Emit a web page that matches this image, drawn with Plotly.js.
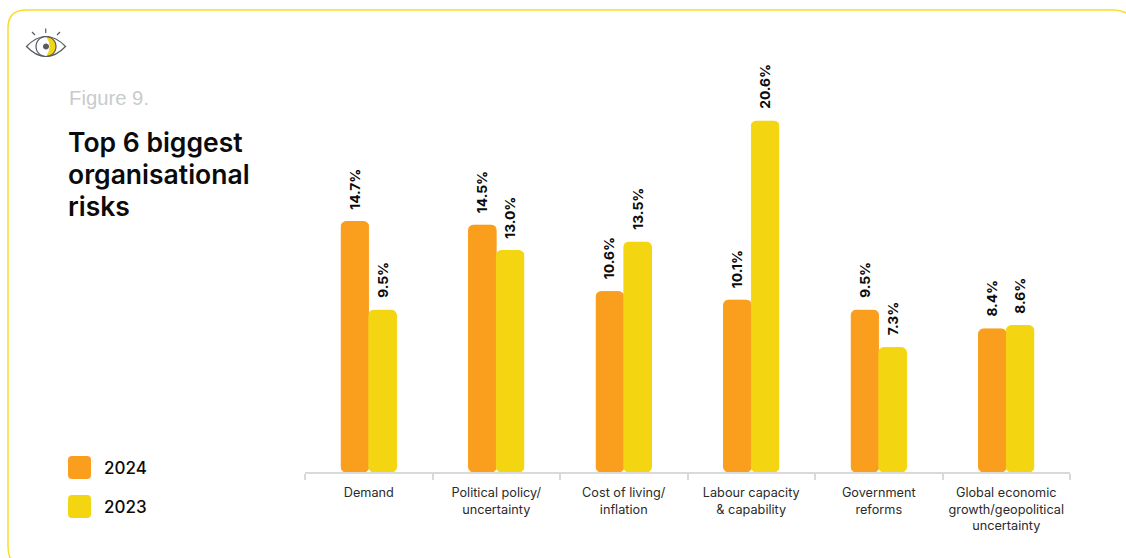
<!DOCTYPE html>
<html>
<head>
<meta charset="utf-8">
<script src="https://cdn.plot.ly/plotly-3.0.1.min.js"></script>
<style>
html,body{margin:0;padding:0;background:#fff;overflow:hidden}
#chart{width:1126px;height:558px}
</style>
</head>
<body>
<div id="chart"></div>
<script>
// Survey results: share of respondents naming each organisational risk
const categories = [
  "Demand",
  "Political policy/<br>uncertainty",
  "Cost of living/<br>inflation",
  "Labour capacity<br>& capability",
  "Government<br>reforms",
  "Global economic<br>growth/geopolitical<br>uncertainty"
];
const values2024 = [14.7, 14.5, 10.6, 10.1, 9.5, 8.4];
const values2023 = [9.5, 13.0, 13.5, 20.6, 7.3, 8.6];
const legendNames = ["2024", "2023"];
const headingLines = ["Top 6 biggest", "organisational", "risks"];

const ORANGE = "#FA9E1E";
const YELLOW = "#F4D512";
const CARD = "#F9DC2E";
const INK = "#0b0b0b";
const ICON = "#555C63";

const W = 1126, H = 558;
const plotLeft = 305, plotRight = 1070, plotTop = 60, plotBottom = 472;

// Page pixels to paper fractions, for the decoration around the plot
const px = x => (x - plotLeft) / (plotRight - plotLeft);
const py = y => (plotBottom - y) / (plotBottom - plotTop);
const P = (x, y) => px(x) + "," + py(y);
const paperPath = (d, extra) => Object.assign(
  {type: "path", xref: "paper", yref: "paper", path: d, line: {color: ICON, width: 1.2}}, extra);
function arcPoints(cx, cy, r, a0, a1) {
  let s = "";
  for (let a = a0; a <= a1; a += 10) {
    const t = a * Math.PI / 180;
    s += " L" + px(cx + r * Math.cos(t)) + "," + py(cy + r * Math.sin(t));
  }
  return s;
}
const circlePath = (cx, cy, r) =>
  "M" + px(cx - r) + "," + py(cy) + arcPoints(cx, cy, r, 180, 540) + " Z";

const shapes = [
  // Card outline, running off the right and bottom of the page
  paperPath(
    "M" + P(14, 563) + " Q" + P(8, 558) + " " + P(8, 546) +
    " L" + P(8, 28) +
    " Q" + P(8, 10) + " " + P(26, 10) +
    " L" + P(1114, 10) +
    " Q" + P(1124, 10) + " " + P(1132, 17),
    {line: {color: CARD, width: 1.5}}),
  // Eye icon: crescent, lid, iris, pupil and lashes
  paperPath(
    "M" + P(46, 36.5) + arcPoints(46, 46.5, 10, -90, 90) +
    " Q" + P(53, 46.5) + " " + P(46, 36.5) + " Z",
    {fillcolor: YELLOW, line: {width: 0}}),
  paperPath(
    "M" + P(26.5, 46.5) + " Q" + P(36, 36.5) + " " + P(46, 36.5) +
    " Q" + P(56, 36.5) + " " + P(65.5, 46.5) +
    " Q" + P(56, 56.5) + " " + P(46, 56.5) +
    " Q" + P(36, 56.5) + " " + P(26.5, 46.5) + " Z"),
  paperPath(circlePath(46, 46.5, 10)),
  paperPath(circlePath(46, 46.5, 2.4), {fillcolor: ICON}),
  paperPath("M" + P(45.7, 28.5) + " L" + P(45.7, 33)),
  paperPath("M" + P(32, 32) + " L" + P(35, 35)),
  paperPath("M" + P(60, 32) + " L" + P(57, 35)),
  // Legend swatches
  ...[ORANGE, YELLOW].map((c, i) => {
    const y0 = 456 + i * 39, x0 = 68, s = 23, r = 4;
    return paperPath(
      "M" + P(x0 + r, y0) + " L" + P(x0 + s - r, y0) +
      " Q" + P(x0 + s, y0) + " " + P(x0 + s, y0 + r) +
      " L" + P(x0 + s, y0 + s - r) +
      " Q" + P(x0 + s, y0 + s) + " " + P(x0 + s - r, y0 + s) +
      " L" + P(x0 + r, y0 + s) +
      " Q" + P(x0, y0 + s) + " " + P(x0, y0 + s - r) +
      " L" + P(x0, y0 + r) +
      " Q" + P(x0, y0) + " " + P(x0 + r, y0) + " Z",
      {fillcolor: c, line: {width: 0}});
  })
];

const pageText = (text, x, y, font) => ({
  text, xref: "paper", yref: "paper", x: px(x), y: py(y),
  xanchor: "left", yanchor: "middle", align: "left", showarrow: false,
  borderpad: 0, borderwidth: 0, font
});

const valueLabels = [values2024, values2023].flatMap((vals, s) =>
  vals.map((v, i) => ({
    x: categories[i], y: v, xref: "x", yref: "y",
    xshift: s === 0 ? -14 : 14, yshift: 10,
    text: v.toFixed(1) + "%", textangle: -90,
    xanchor: "center", yanchor: "bottom", showarrow: false,
    font: {family: "Inter", size: 13.8, weight: 700, color: INK}
  })));

const headingFont = {family: "Inter", size: 26.5, weight: 600, color: INK};
const annotations = [
  pageText("Figure 9.", 69, 98, {family: "Liberation Sans", size: 20.3, color: "#C9CBCC"}),
  ...headingLines.map((line, i) => pageText(line, 68, 142 + i * 32, headingFont)),
  pageText(legendNames[0], 104, 468, {family: "Inter", size: 17, weight: 500, color: INK}),
  pageText(legendNames[1], 104, 507, {family: "Inter", size: 17, weight: 500, color: INK}),
  ...valueLabels
];

// A hairline outline in the fill colour closes the seam between paired bars
const traces = [
  {type: "bar", name: legendNames[0], x: categories, y: values2024,
   marker: {color: ORANGE, line: {color: ORANGE, width: 1}}},
  {type: "bar", name: legendNames[1], x: categories, y: values2023,
   marker: {color: YELLOW, line: {color: YELLOW, width: 1}}}
];

const layout = {
  width: W, height: H,
  margin: {l: plotLeft, r: W - plotRight, t: plotTop, b: H - plotBottom, pad: 0},
  paper_bgcolor: "#fff", plot_bgcolor: "#fff",
  barmode: "group", bargap: 0.565, bargroupgap: 0,
  showlegend: false, hovermode: false,
  xaxis: {
    type: "category", range: [-0.5, 5.5], tickson: "boundaries",
    ticks: "outside", ticklen: 6, tickwidth: 1.5, tickcolor: "#D9D9D9",
    showline: true, linecolor: "#D9D9D9", linewidth: 1.5,
    showgrid: false, zeroline: false, tickangle: 0, fixedrange: true, automargin: false,
    ticklabelstandoff: 8,
    tickfont: {family: "Inter", size: 12.7, color: "#2b2b2b"}
  },
  yaxis: {visible: false, range: [0, 412 / 17.04], fixedrange: true},
  shapes, annotations
};

Plotly.newPlot("chart", traces, layout, {displayModeBar: false}).then(gd => {
  // Round all four corners of each bar
  gd.querySelectorAll(".bars .point path").forEach(p => {
    p.style.clipPath = "inset(0 round 6px)";
  });
});
</script>
</body>
</html>
